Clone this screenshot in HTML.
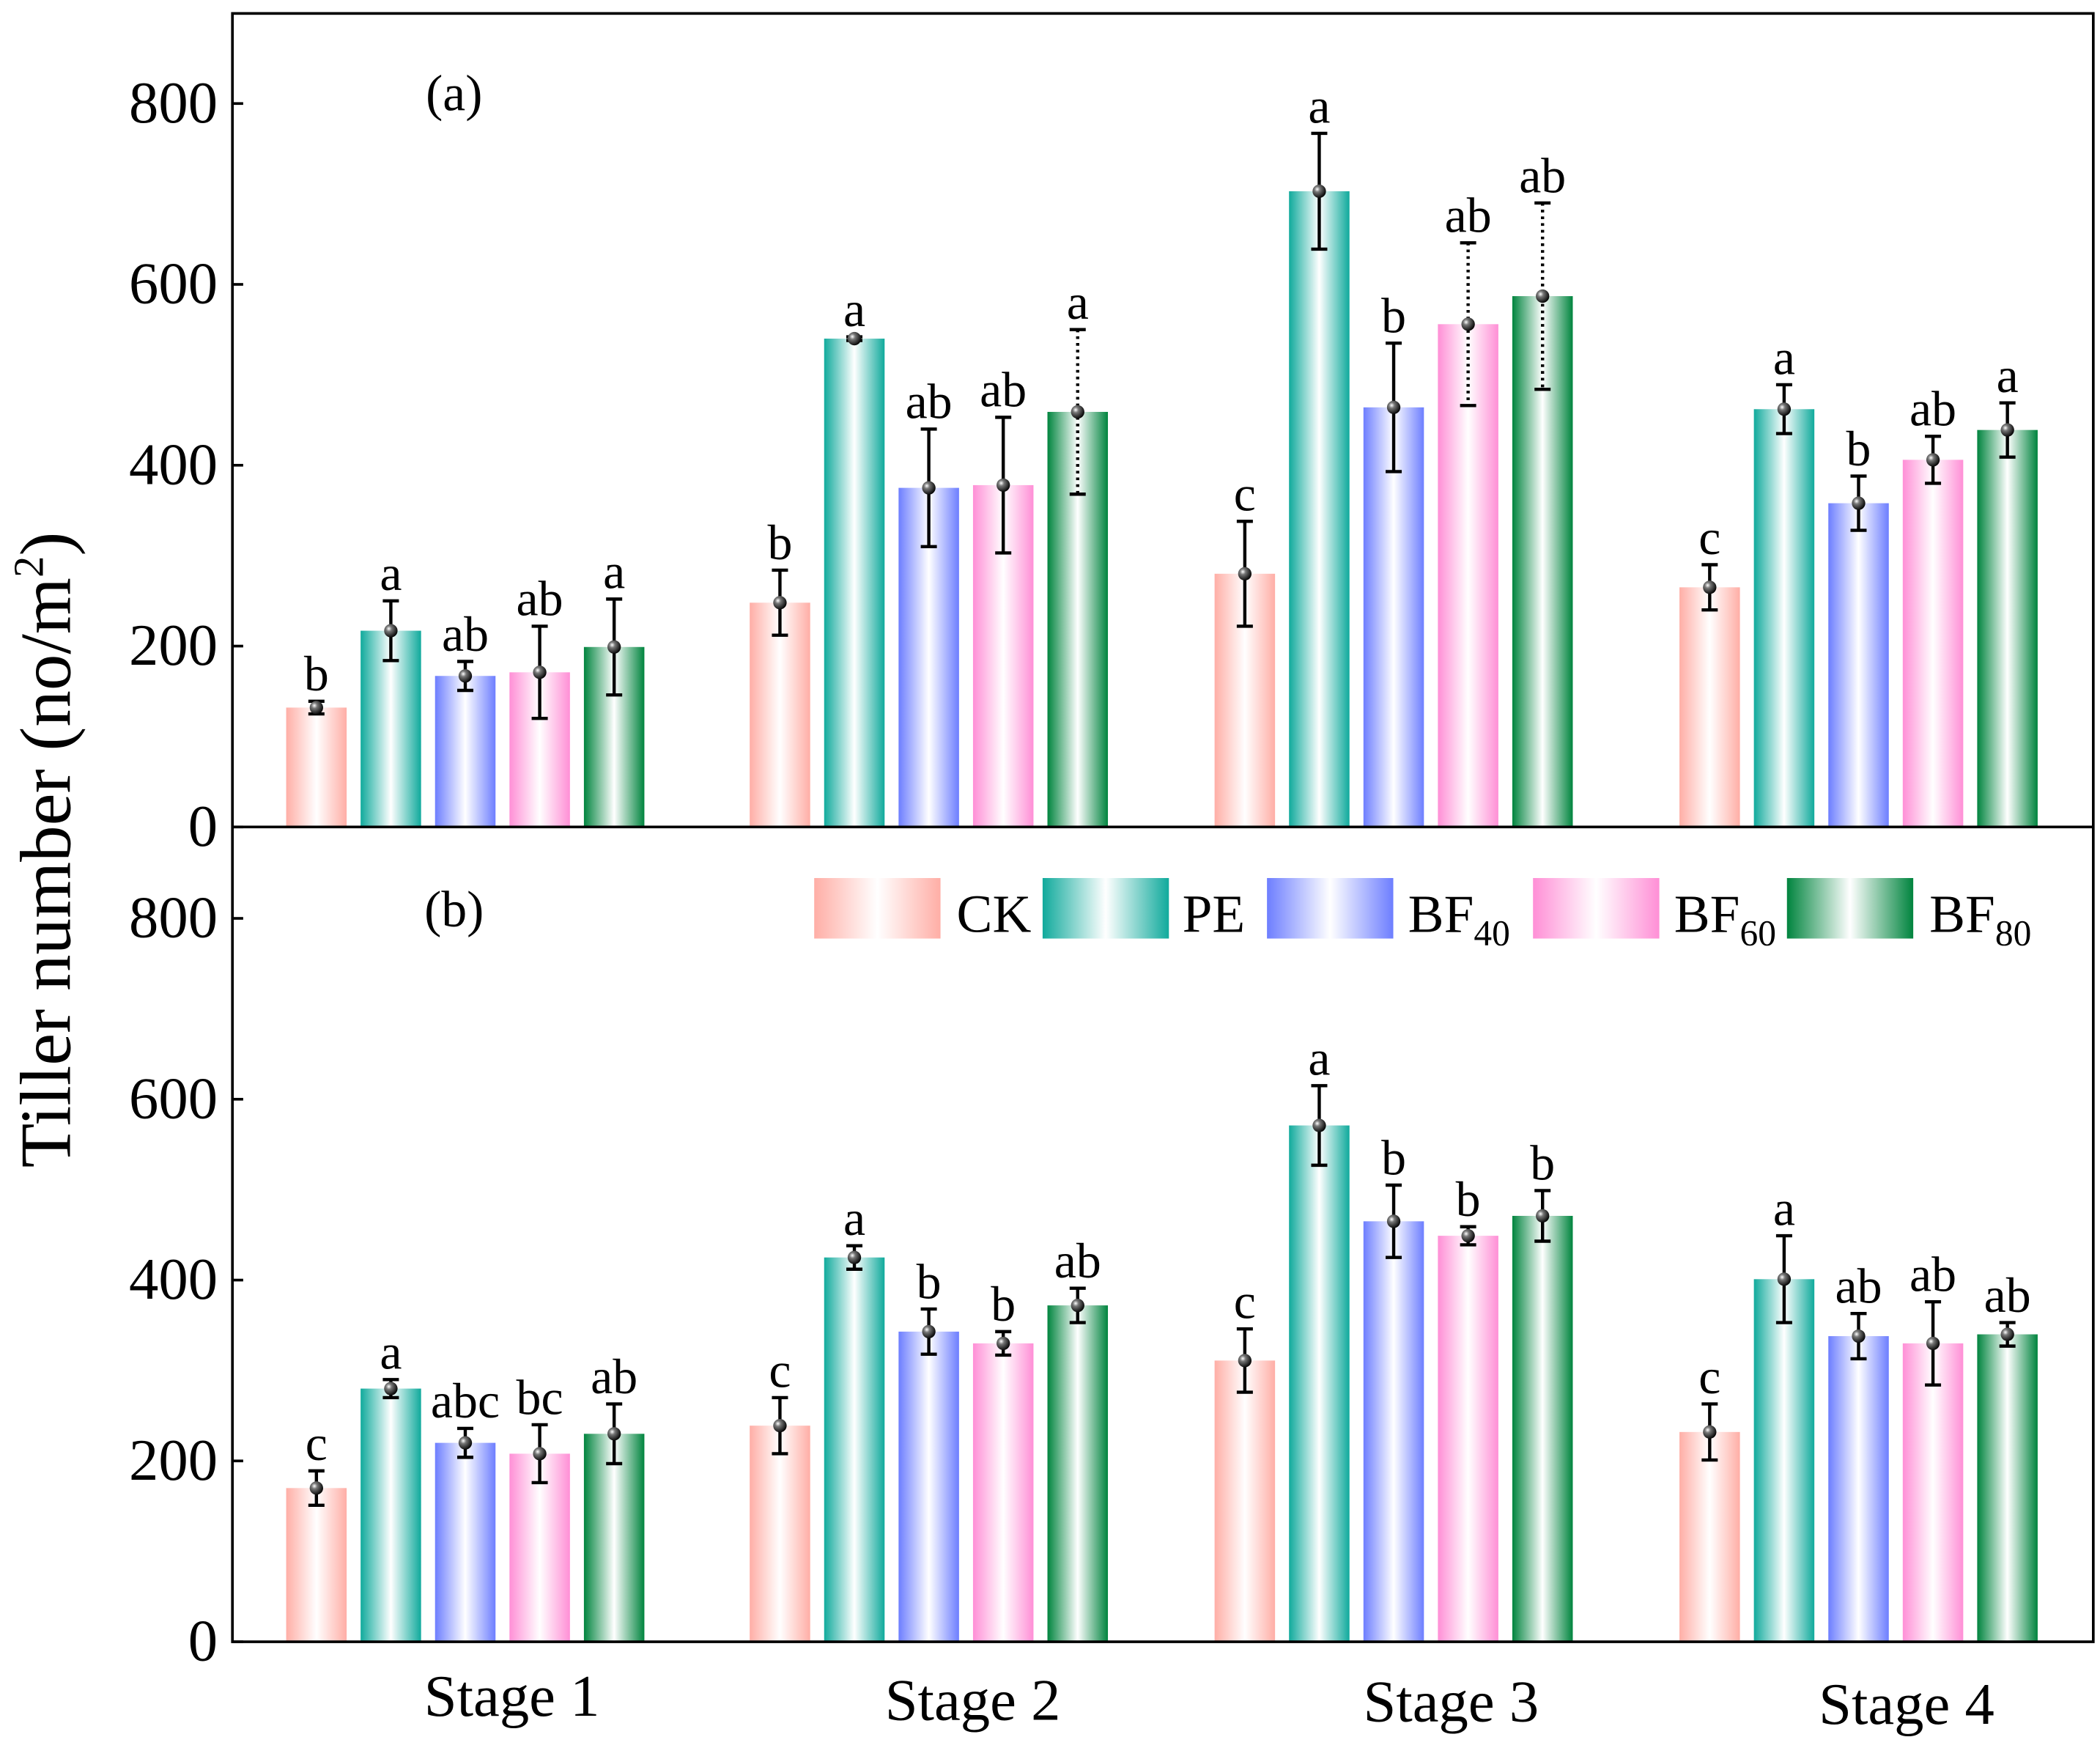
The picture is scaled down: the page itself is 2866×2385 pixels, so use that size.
<!DOCTYPE html>
<html><head><meta charset="utf-8"><style>
html,body{margin:0;padding:0;background:#fff;}
svg{display:block;}
text{font-family:"Liberation Serif",serif;fill:#000;}
</style></head><body>
<svg id="chart" width="2866" height="2385" viewBox="0 0 1563 1300" preserveAspectRatio="none" xmlns="http://www.w3.org/2000/svg">
<defs>
<linearGradient id="g0" x1="0" x2="1" y1="0" y2="0"><stop offset="0" stop-color="#ffaea6"/><stop offset="0.5" stop-color="#fff"/><stop offset="1" stop-color="#ffaea6"/></linearGradient>
<linearGradient id="g1" x1="0" x2="1" y1="0" y2="0"><stop offset="0" stop-color="#10aa9c"/><stop offset="0.5" stop-color="#fff"/><stop offset="1" stop-color="#10aa9c"/></linearGradient>
<linearGradient id="g2" x1="0" x2="1" y1="0" y2="0"><stop offset="0" stop-color="#6d7eff"/><stop offset="0.5" stop-color="#fff"/><stop offset="1" stop-color="#6d7eff"/></linearGradient>
<linearGradient id="g3" x1="0" x2="1" y1="0" y2="0"><stop offset="0" stop-color="#ff8fd6"/><stop offset="0.5" stop-color="#fff"/><stop offset="1" stop-color="#ff8fd6"/></linearGradient>
<linearGradient id="g4" x1="0" x2="1" y1="0" y2="0"><stop offset="0" stop-color="#00843e"/><stop offset="0.5" stop-color="#fff"/><stop offset="1" stop-color="#00843e"/></linearGradient>
<radialGradient id="dot" cx="0.35" cy="0.35" r="0.7"><stop offset="0" stop-color="#fff"/><stop offset="0.3" stop-color="#777"/><stop offset="1" stop-color="#000"/></radialGradient>
</defs>
<g id="plot"></g>
</svg>
<script>
const stages = ["Stage 1","Stage 2","Stage 3","Stage 4"];
const series = ["CK","PE","BF40","BF60","BF80"];
const topValues = [[132,217,167,171,199],[248,540,375,378,459],[280,703,464,556,587],[265,462,358,406,439]];
const topErrors = [[7,33,16,51,53],[36,2,65,75,91],[58,64,71,90,103],[25,27,30,26,30]];
const topLetters = [["b","a","ab","ab","a"],["b","a","ab","ab","a"],["c","a","b","ab","ab"],["c","a","b","ab","a"]];
const topDotted = [[0,0,0,0,0],[0,0,0,0,1],[0,0,0,1,1],[0,0,0,0,0]];
const botValues = [[170,280,220,208,230],[239,425,343,330,372],[311,571,465,449,471],[232,401,338,330,340]];
const botErrors = [[19,10,16,32,33],[31,13,25,13,19],[35,44,40,10,28],[31,48,25,46,13]];
const botLetters = [["c","a","abc","bc","ab"],["c","a","b","b","ab"],["c","a","b","b","b"],["c","a","ab","ab","ab"]];
const yTicks = [0,200,400,600,800];

const NS="http://www.w3.org/2000/svg";
const g=document.getElementById('plot');
function mk(tag,attrs,parent){const e=document.createElementNS(NS,tag);for(const k in attrs)e.setAttribute(k,attrs[k]);(parent||g).appendChild(e);return e;}
const L=173,R=1558,T=10,M=615,B=1221;
const groupStart=[213,558,904,1250], step=55.4, bw=45;
function xBar(si,k){return groupStart[si]+k*step;}
function yTop(v){return M - v*134.5/200;}
function yBot(v){return B - v*134.5/200;}

function panel(values,errors,letters,dotted,yf,tag){
  for(let si=0;si<stages.length;si++){
    for(let k=0;k<series.length;k++){
      const v=values[si][k],e=errors[si][k],x=xBar(si,k),cx=x+bw/2;
      const r=mk('rect',{x:x,y:yf(v),width:bw,height:yf(0)-yf(v),fill:`url(#g${k})`});
      
      
      const dash=dotted[si][k]?'2,3':'none';
      const eb=mk('g',{stroke:'#000','stroke-width':2.4});
      
      
      mk('line',{x1:cx,x2:cx,y1:yf(v+e),y2:yf(v-e),'stroke-dasharray':dash},eb);
      mk('line',{x1:cx-6,x2:cx+6,y1:yf(v+e),y2:yf(v+e)},eb);
      mk('line',{x1:cx-6,x2:cx+6,y1:yf(v-e),y2:yf(v-e)},eb);
      const d=mk('circle',{cx:cx,cy:yf(v),r:5,fill:'url(#dot)'});
      
      
      const t=mk('text',{x:cx,y:yf(v+e)-8,'text-anchor':'middle','font-size':37});
      t.textContent=letters[si][k];
      
      
    }
  }
  for(const tv of yTicks){
    const y=yf(tv);
    mk('line',{x1:L,x2:L+8,y1:y,y2:y,stroke:'#000','stroke-width':2});
    const t=mk('text',{x:162,y:y+14,'text-anchor':'end','font-size':44});
    t.textContent=tv;
    
    
  }
}
panel(topValues,topErrors,topLetters,topDotted,yTop,'panel-a');
panel(botValues,botErrors,botLetters,[[0,0,0,0,0],[0,0,0,0,0],[0,0,0,0,0],[0,0,0,0,0]],yBot,'panel-b');

const frame=mk('rect',{x:L,y:T,width:R-L,height:B-T,fill:'none',stroke:'#000','stroke-width':2});


const mid=mk('line',{x1:L,x2:R,y1:M,y2:M,stroke:'#000','stroke-width':2});



const la=mk('text',{x:338,y:82,'text-anchor':'middle','font-size':38});la.textContent='(a)';


const lb=mk('text',{x:338,y:689,'text-anchor':'middle','font-size':38});lb.textContent='(b)';



const stageX=[381,724,1080,1419], stageY=[1276,1279,1280,1282];
stages.forEach((s,i)=>{const t=mk('text',{x:stageX[i],y:stageY[i],'text-anchor':'middle','font-size':44});t.textContent=s;

});

const yt=mk('text',{x:0,y:0,'text-anchor':'middle','font-size':54,transform:'translate(52,632) rotate(-90)'});
yt.innerHTML='Tiller number (no/m<tspan dy="-20" font-size="32">2</tspan><tspan dy="20">)</tspan>';



const legX=[606,776,943,1141,1330], legTX=[712,880,1048,1246,1436];
const legMain=["CK","PE","BF","BF","BF"], legSub=["","","40","60","80"];
series.forEach((s,k)=>{
  const lg=mk('g',{});
  
  
  mk('rect',{x:legX[k],y:653,width:94,height:45,fill:`url(#g${k})`},lg);
  const t=mk('text',{x:legTX[k],y:693,'font-size':40},lg);
  t.innerHTML=legMain[k]+(legSub[k]?`<tspan dy="10" font-size="27">${legSub[k]}</tspan>`:'');
});
</script>
</body></html>
